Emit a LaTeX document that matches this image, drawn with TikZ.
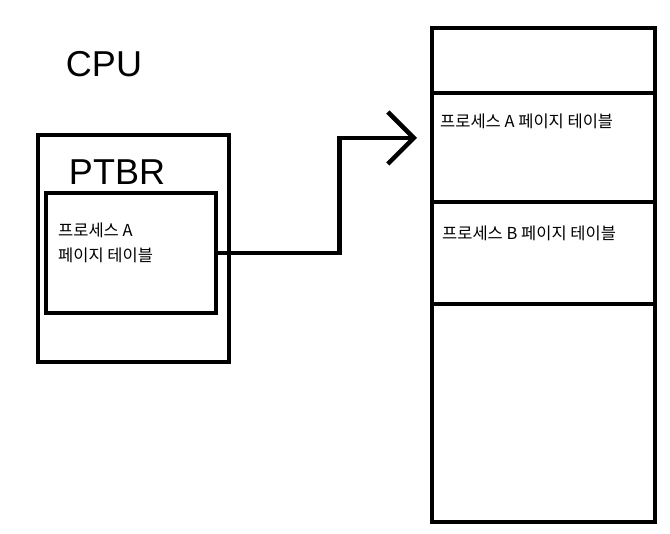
\documentclass[tikz,border=0pt]{standalone}
\usepackage{fontspec}
\setmainfont{Liberation Sans}
\newfontfamily\krfont{Noto Sans CJK KR}
\usepackage{tikz}
\usetikzlibrary{arrows.meta, positioning}

\begin{document}
\begin{tikzpicture}[
    x=1pt, y=-1pt,
    box/.style={rectangle, draw=black, line width=4.5pt, inner sep=0pt},
    cell/.style={box, minimum width=223pt},
    label/.style={font=\krfont\fontsize{16.5}{25}\selectfont, align=left, anchor=west, inner sep=0pt},
    hand/.style={font=\fontsize{36}{40}\selectfont, inner sep=0pt},
    arrow/.style={draw=black, line width=4.5pt, -{Straight Barb[length=26pt, width=52pt]}}
]
    \useasboundingbox (0, 0) rectangle (670, 534);

    % CPU side
    \node [hand] (cputitle) at (104, 64) {CPU};
    \node [box, minimum width=191pt, minimum height=227pt] (cpu) at (133.5, 248.5) {};
    \node [hand] (ptbrtitle) at (117, 172) {PTBR};
    \node [box, minimum width=170pt, minimum height=120pt] (ptbr) at (131, 253) {};
    \node [label] (ptbrtext) at (58, 243) {프로세스 A\\페이지 테이블};

    % memory
    \node [cell, minimum height=65pt] (mem0) at (543.5, 60.5) {};
    \node [cell, minimum height=109pt] (memA) at (543.5, 147.5) {};
    \node [cell, minimum height=102pt] (memB) at (543.5, 253) {};
    \node [cell, minimum height=218pt] (mem3) at (543.5, 413) {};
    \node [label] (memAtext) at (440, 121) {프로세스 A 페이지 테이블};
    \node [label] (memBtext) at (442, 233) {프로세스 B 페이지 테이블};

    % connector
    \coordinate (tip) at (417, 138);
    \draw [arrow] (ptbr.east) -- ++(121, 0) |- (tip);
\end{tikzpicture}
\end{document}
